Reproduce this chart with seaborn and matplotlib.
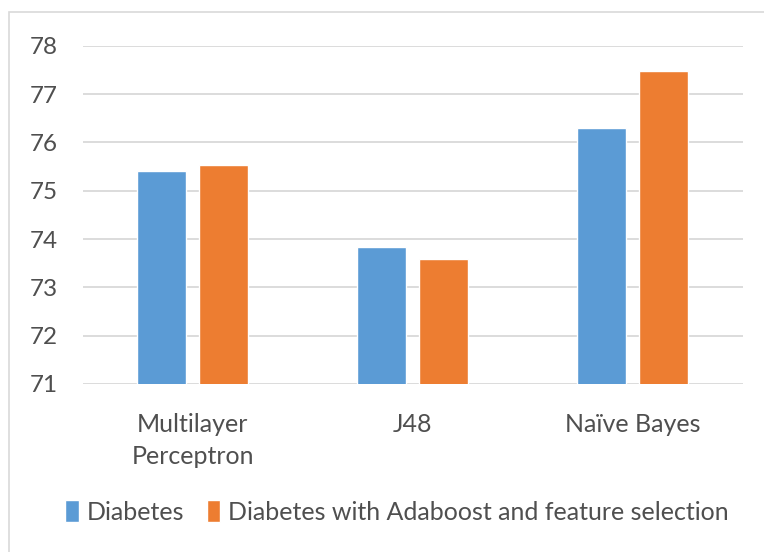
import matplotlib
matplotlib.use("Agg")
import matplotlib.pyplot as plt
from matplotlib.patches import Rectangle
import pandas as pd
import seaborn as sns

# Classifier accuracy (%) on the diabetes dataset
classifiers = ["Multilayer\nPerceptron", "J48", "Naïve Bayes"]
diabetes = [75.40, 73.83, 76.30]
diabetes_ada_fs = [75.53, 73.59, 77.47]
series_names = ["Diabetes", "Diabetes with Adaboost and feature selection"]
y_ticks = [71, 72, 73, 74, 75, 76, 77, 78]

df = pd.DataFrame({
    "Classifier": classifiers * 2,
    "Accuracy": diabetes + diabetes_ada_fs,
    "Dataset": [series_names[0]] * 3 + [series_names[1]] * 3,
})

sns.set_theme(style="white")
plt.rcParams["font.family"] = ["Lato", "DejaVu Sans"]

text_color = "#4F4F4F"
grid_color = "#D9D9D9"

fig = plt.figure(figsize=(7.64, 5.52), dpi=100)
fig.patch.set_facecolor("white")

# Outer chart-area frame
fig.patches.append(Rectangle((9 / 764, -0.2), 1.2, 1.2 - 12 / 552,
                             transform=fig.transFigure, fill=False,
                             edgecolor=grid_color, linewidth=1.2, zorder=0))

ax = fig.add_axes([82.7 / 764, 1 - 384 / 552, 660 / 764, (384 - 45.7) / 552])

sns.barplot(data=df, x="Classifier", y="Accuracy", hue="Dataset",
            palette=["#5B9BD5", "#ED7D31"], width=0.566, gap=0.21,
            saturation=1, ax=ax, zorder=3, legend=True)

ax.set_ylim(71, 78)
ax.set_yticks(y_ticks)
ax.set_yticklabels([str(t) for t in y_ticks])
ax.set_xlim(-0.5, 2.5)
ax.set_xlabel("")
ax.set_ylabel("")

ax.yaxis.grid(True, color=grid_color, linewidth=1.3, zorder=0)
ax.set_axisbelow(True)
for s in ax.spines.values():
    s.set_visible(False)

ax.tick_params(axis="y", length=0, pad=18, labelsize=17.5, labelcolor=text_color)
ax.tick_params(axis="x", length=0, pad=21, labelsize=18, labelcolor=text_color)
for lbl in ax.get_xticklabels():
    lbl.set_linespacing(1.45)

ax.get_legend().remove()
handles, labels = ax.get_legend_handles_labels()
fig.legend(handles, labels, loc="center", bbox_to_anchor=(397 / 764, 1 - 512 / 552),
           ncol=2, frameon=False, fontsize=18, labelcolor=text_color,
           handlelength=0.55, handleheight=0.95, handletextpad=0.3,
           columnspacing=0.9)

fig.savefig("out.png", dpi=100, facecolor="white")
